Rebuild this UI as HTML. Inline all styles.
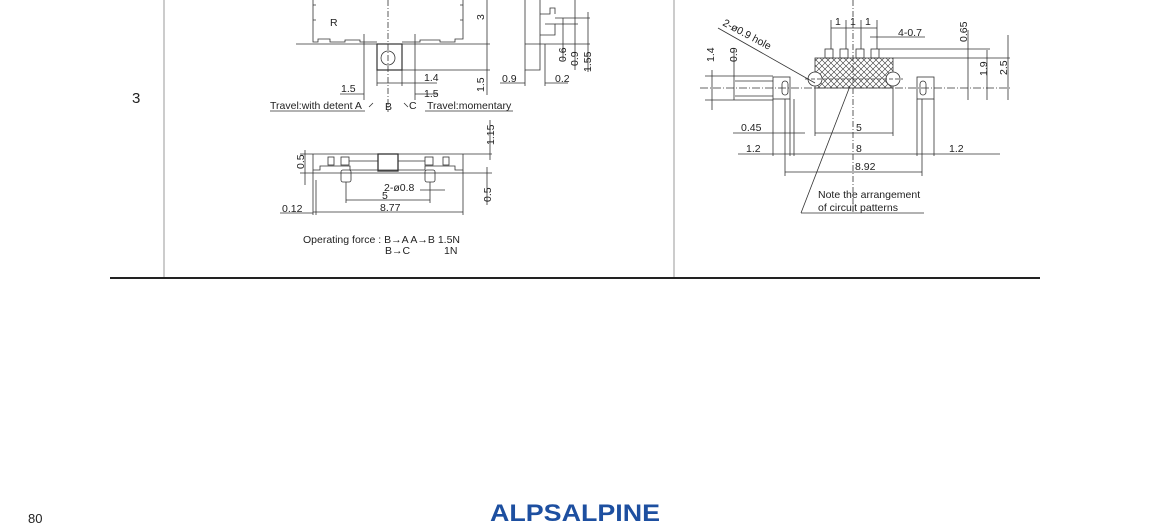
<!DOCTYPE html>
<html><head><meta charset="utf-8"><style>
html,body{margin:0;padding:0;background:#fff;}
svg{display:block;}
text{font-family:"Liberation Sans",sans-serif;fill:#222;}
</style></head><body>
<svg width="1150" height="529" viewBox="0 0 1150 529" xmlns="http://www.w3.org/2000/svg">
<defs>
<pattern id="hx" width="6" height="6" patternUnits="userSpaceOnUse">
<path d="M0 0L6 6M6 0L0 6" stroke="#333" stroke-width="0.6"/>
</pattern>
</defs>
<!-- table -->
<line x1="164" y1="0" x2="164" y2="278" stroke="#999" stroke-width="1"/>
<line x1="674" y1="0" x2="674" y2="278" stroke="#999" stroke-width="1"/>
<line x1="110" y1="278" x2="1040" y2="278" stroke="#222" stroke-width="2"/>
<text x="132" y="103" font-size="15">3</text>

<g stroke="#333" stroke-width="0.8" fill="none">
<!-- left top view -->
<path d="M313 0V42H318V39H330V42H345V40H360V42H377M402 42H420V40H440V42H455V39H463V0"/>
<path d="M313 5h3M460 5h3M313 20h3M460 20h3"/>
<line x1="296" y1="44" x2="490" y2="44"/>
<line x1="388" y1="0" x2="388" y2="112" stroke-dasharray="6,2,1,2"/>
<rect x="377" y="44" width="25" height="26" stroke-width="1.2"/>
<circle cx="388" cy="58" r="7"/>
<line x1="402" y1="70" x2="490" y2="70"/>
<line x1="487" y1="0" x2="487" y2="95"/>
<line x1="364" y1="34" x2="364" y2="100"/>
<line x1="415" y1="34" x2="415" y2="100"/>
<line x1="377" y1="70" x2="377" y2="86"/>
<line x1="402" y1="70" x2="402" y2="86"/>
<line x1="377" y1="83" x2="437" y2="83"/>
<line x1="340" y1="94" x2="364" y2="94"/>
<line x1="415" y1="94" x2="437" y2="94"/>
<line x1="270" y1="111" x2="365" y2="111"/>
<line x1="425" y1="111" x2="513" y2="111"/>
<path d="M369 107l4-4M404 103l4 4"/>
<!-- side view -->
<path d="M525 0V44H540V0M525 44V70H540V44M540 14H550V8H555V14M540 35H555V24H545"/>
<line x1="545" y1="44" x2="545" y2="86"/>
<line x1="525" y1="70" x2="525" y2="86"/>
<line x1="500" y1="83" x2="525" y2="83"/>
<line x1="545" y1="83" x2="568" y2="83"/>
<line x1="555" y1="18" x2="590" y2="18"/>
<line x1="555" y1="24" x2="578" y2="24"/>
<line x1="540" y1="44" x2="590" y2="44"/>
<line x1="563" y1="18" x2="563" y2="60"/>
<line x1="575" y1="14" x2="575" y2="70"/>
<line x1="588" y1="12" x2="588" y2="72"/>
<line x1="575" y1="0" x2="575" y2="14"/>

<!-- bottom view -->
<line x1="300" y1="154" x2="492" y2="154"/>
<line x1="300" y1="173" x2="492" y2="173"/>
<path d="M313 154V170H320V166H350V170H425V166H455V170H463V154"/>
<rect x="328" y="157" width="6" height="8"/><rect x="341" y="157" width="8" height="8"/>
<rect x="425" y="157" width="8" height="8"/><rect x="443" y="157" width="6" height="8"/>
<rect x="378" y="154" width="20" height="17" stroke-width="1.3"/>
<line x1="349" y1="161" x2="378" y2="161"/><line x1="398" y1="161" x2="425" y2="161"/>
<rect x="341" y="170" width="10" height="12" rx="2"/>
<rect x="425" y="170" width="10" height="12" rx="2"/>
<line x1="313" y1="170" x2="313" y2="215"/>
<line x1="316" y1="180" x2="316" y2="215"/>
<line x1="463" y1="170" x2="463" y2="215"/>
<line x1="346" y1="182" x2="346" y2="203"/>
<line x1="430" y1="182" x2="430" y2="203"/>
<line x1="346" y1="200" x2="430" y2="200"/>
<line x1="313" y1="212" x2="463" y2="212"/>
<line x1="280" y1="213" x2="313" y2="213"/>
<line x1="420" y1="190" x2="445" y2="190"/>
<line x1="490" y1="120" x2="490" y2="160"/>
<line x1="487" y1="167" x2="487" y2="205"/>
<line x1="305" y1="150" x2="305" y2="185"/>

<!-- right drawing -->
<line x1="700" y1="88" x2="1010" y2="88" stroke-dasharray="8,2,1,2"/>
<line x1="853" y1="0" x2="853" y2="212" stroke-dasharray="6,2,1,2"/>
<rect x="815" y="58" width="78" height="30" fill="url(#hx)"/>
<rect x="825" y="49" width="8" height="9"/><rect x="840" y="49" width="8" height="9"/>
<rect x="856" y="49" width="8" height="9"/><rect x="871" y="49" width="8" height="9"/>
<circle cx="815" cy="79" r="7" fill="#fff"/><circle cx="893" cy="79" r="7" fill="#fff"/>
<line x1="805" y1="79" x2="903" y2="79" stroke-dasharray="4,2"/>
<rect x="773" y="77" width="17" height="22"/><rect x="782" y="81" width="6" height="14" rx="3"/>
<rect x="917" y="77" width="17" height="22"/><rect x="920" y="81" width="6" height="14" rx="3"/>
<line x1="815" y1="88" x2="815" y2="136"/><line x1="893" y1="88" x2="893" y2="136"/>
<line x1="773" y1="99" x2="773" y2="156"/><line x1="790" y1="99" x2="790" y2="156"/>
<line x1="785" y1="99" x2="785" y2="176"/><line x1="794" y1="99" x2="794" y2="156"/>
<line x1="917" y1="99" x2="917" y2="156"/><line x1="934" y1="99" x2="934" y2="156"/>
<line x1="922" y1="99" x2="922" y2="176"/>
<line x1="733" y1="133" x2="805" y2="133"/>
<line x1="815" y1="133" x2="893" y2="133"/>
<line x1="738" y1="154" x2="1000" y2="154"/>
<line x1="785" y1="172" x2="922" y2="172"/>
<line x1="831" y1="28" x2="877" y2="28"/>
<line x1="831" y1="20" x2="831" y2="49"/><line x1="846" y1="20" x2="846" y2="49"/>
<line x1="861" y1="20" x2="861" y2="49"/><line x1="877" y1="20" x2="877" y2="49"/>
<line x1="870" y1="37" x2="925" y2="37"/>
<line x1="879" y1="49" x2="990" y2="49"/>
<line x1="893" y1="58" x2="1010" y2="58"/>
<line x1="968" y1="30" x2="968" y2="100"/>
<line x1="987" y1="50" x2="987" y2="100"/>
<line x1="1008" y1="35" x2="1008" y2="100"/>
<line x1="712" y1="70" x2="712" y2="110"/><line x1="734" y1="50" x2="734" y2="100"/>
<line x1="705" y1="76" x2="773" y2="76"/><line x1="735" y1="81" x2="773" y2="81"/>
<line x1="735" y1="96" x2="773" y2="96"/><line x1="705" y1="100" x2="773" y2="100"/>
<line x1="718" y1="28" x2="815" y2="83"/>
<line x1="850" y1="86" x2="801" y2="213"/>
<line x1="801" y1="213" x2="924" y2="213"/>
</g>

<g font-size="10.5">
<text x="330" y="26">R</text>
<text x="484" y="20" transform="rotate(-90 484 20)">3</text>
<text x="484" y="92" transform="rotate(-90 484 92)">1.5</text>
<text x="424" y="81">1.4</text>
<text x="341" y="92">1.5</text>
<text x="424" y="97">1.5</text>
<text x="270" y="109">Travel:with detent   A</text>
<text x="385" y="110">B</text>
<text x="409" y="109">C</text>
<text x="427" y="109">Travel:momentary</text>
<text x="502" y="82">0.9</text>
<text x="555" y="82">0.2</text>
<text x="566" y="62" transform="rotate(-90 566 62)">0.6</text>
<text x="578" y="66" transform="rotate(-90 578 66)">0.9</text>
<text x="591" y="72" transform="rotate(-90 591 72)">1.55</text>
<text x="494" y="145" transform="rotate(-90 494 145)">1.15</text>
<text x="304" y="169" transform="rotate(-90 304 169)">0.5</text>
<text x="491" y="202" transform="rotate(-90 491 202)">0.5</text>
<text x="384" y="191">2-ø0.8</text>
<text x="382" y="199">5</text>
<text x="380" y="211">8.77</text>
<text x="282" y="212">0.12</text>
<text x="303" y="243">Operating force : B→A A→B  1.5N</text>
<text x="385" y="254">B→C</text>
<text x="444" y="254">1N</text>

<text x="835" y="25">1</text><text x="850" y="25">1</text><text x="865" y="25">1</text>
<text x="898" y="36">4-0.7</text>
<text x="967" y="42" transform="rotate(-90 967 42)">0.65</text>
<text x="987" y="76" transform="rotate(-90 987 76)">1.9</text>
<text x="1007" y="75" transform="rotate(-90 1007 75)">2.5</text>
<text x="714" y="62" transform="rotate(-90 714 62)">1.4</text>
<text x="737" y="62" transform="rotate(-90 737 62)">0.9</text>
<text x="722" y="25" transform="rotate(28 722 25)">2-ø0.9 hole</text>
<text x="741" y="131">0.45</text>
<text x="856" y="131">5</text>
<text x="746" y="152">1.2</text>
<text x="856" y="152">8</text>
<text x="949" y="152">1.2</text>
<text x="855" y="170">8.92</text>
<text x="818" y="198">Note the arrangement</text>
<text x="818" y="211">of circuit patterns</text>
</g>

<text x="28" y="523" font-size="13">80</text>
<text x="490" y="521" font-size="24" font-weight="bold" fill="#1d4fa0" style="fill:#1d4fa0" textLength="170" lengthAdjust="spacingAndGlyphs">ALPSALPINE</text>
</svg>
</body></html>
